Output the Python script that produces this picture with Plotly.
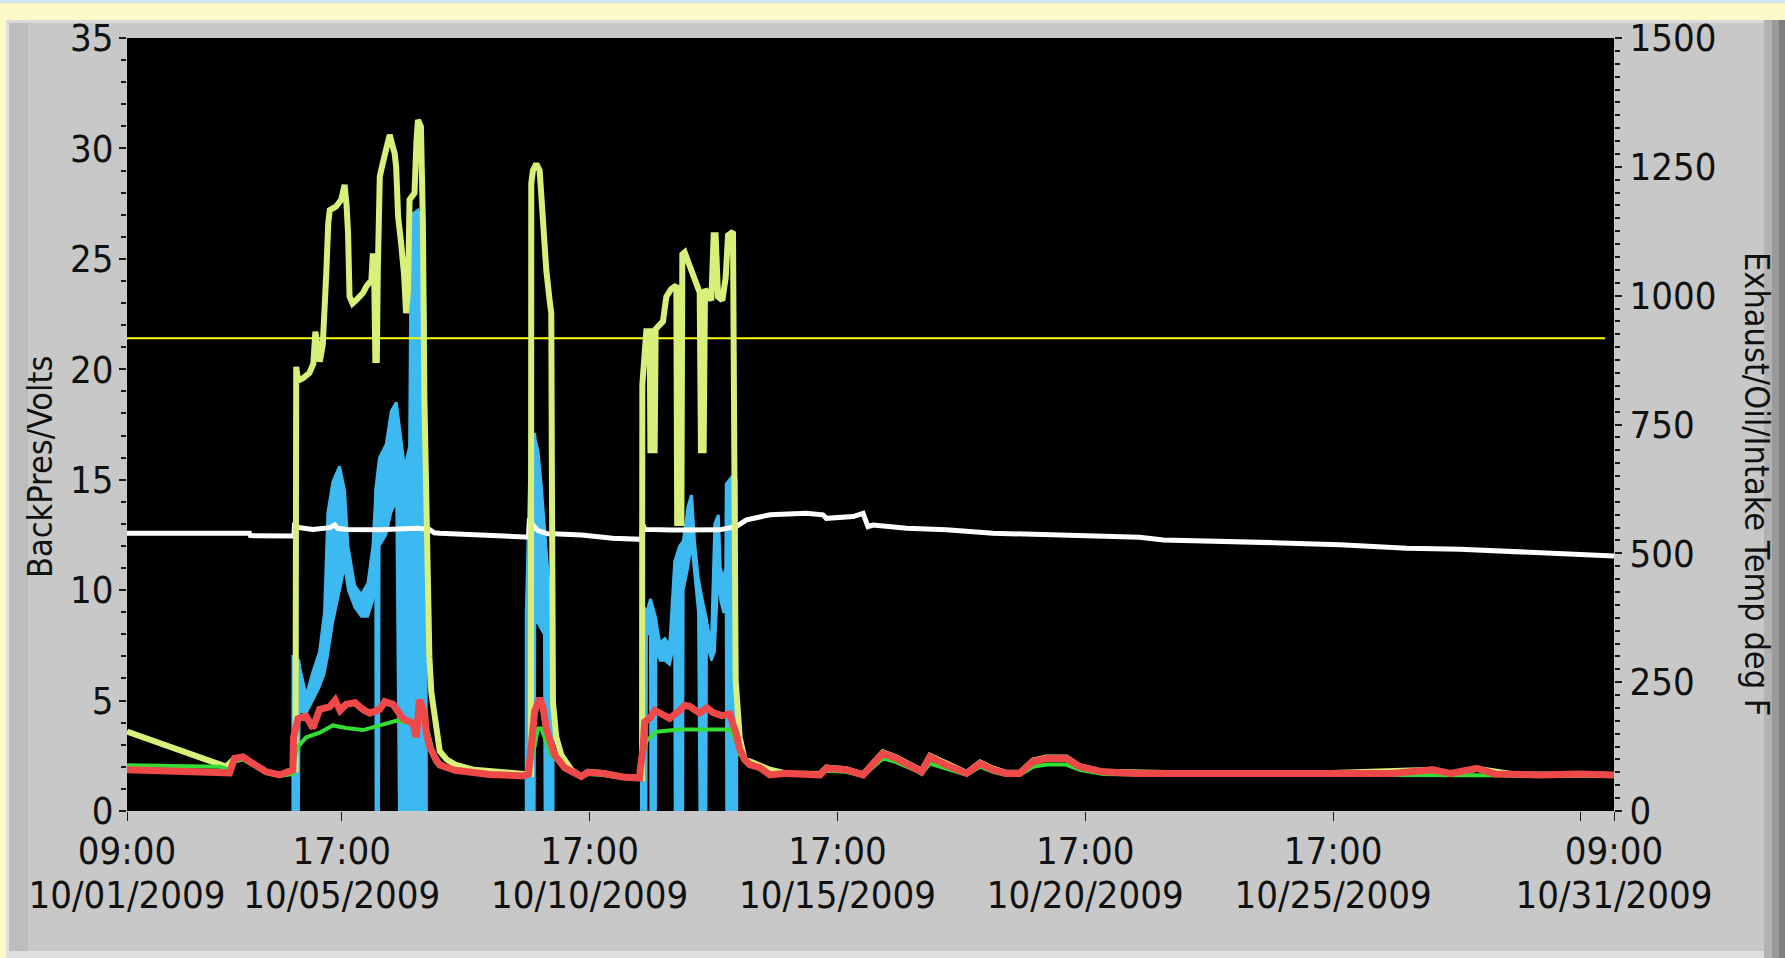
import pandas as pd
import plotly.graph_objects as go

START = pd.Timestamp("2009-10-01 09:00")

# ---------------- data (time in days since 10/01/2009 09:00) ----------------
# Exhaust temperature (deg F, right axis) - light yellow-green
exh_t = [0.0, 2.00, 2.17, 2.34, 2.54, 2.81, 3.08, 3.35, 3.40,
         3.414, 3.45, 3.55, 3.68, 3.76, 3.80, 3.84, 3.89, 3.95, 3.99, 4.02, 4.06, 4.09, 4.16, 4.22,
         4.32, 4.39, 4.43, 4.46, 4.49, 4.55, 4.63, 4.70, 4.76, 4.83, 4.93, 4.96, 4.99, 5.01, 5.04,
         5.06, 5.10, 5.16, 5.23, 5.30, 5.36, 5.40, 5.43, 5.47, 5.53, 5.59, 5.63, 5.67, 5.70, 5.80,
         5.84, 5.87, 5.93, 5.97, 6.00, 6.04, 6.07, 6.10, 6.14, 6.24, 6.31, 6.45, 6.62, 7.00, 7.50,
         8.00, 8.15,
         8.156, 8.19, 8.257, 8.325, 8.358, 8.392, 8.459, 8.526, 8.560, 8.573, 8.594, 8.661, 8.762,
         8.964, 9.165, 9.30, 9.60, 10.00, 10.39,
         10.397, 10.444, 10.477, 10.545, 10.56, 10.645, 10.666, 10.814, 10.881, 10.982, 11.083,
         11.10, 11.184, 11.204, 11.251, 11.352, 11.486, 11.554, 11.58, 11.634, 11.661, 11.789,
         11.836, 11.876, 11.924, 12.011, 12.078, 12.126, 12.226, 12.247, 12.28, 12.361, 12.46,
         12.60, 12.77, 12.97, 13.30, 13.64, 13.98, 14.11, 14.51, 14.85, 15.25, 15.52, 15.93, 16.03,
         16.20, 16.53, 16.94, 17.21, 17.47, 17.74, 18.01, 18.28, 18.55, 18.95, 19.22, 19.69, 20.37,
         22.0, 24.0, 26.35, 26.7, 27.23, 28.0, 30.0]
exh_v = [154, 86, 102, 105, 92, 76, 70, 80, 80,
         862, 835, 840, 850, 868, 930, 905, 872, 905, 960, 1043, 1140, 1166, 1170, 1173,
         1186, 1215, 1175, 1121, 998, 985, 992, 1000, 1005, 1018, 1030, 1082, 1020, 875, 875,
         1050, 1231, 1257, 1290, 1312, 1290, 1276, 1250, 1153, 1102, 1040, 966, 1010, 1186, 1199,
         1300, 1341, 1328, 1140, 800, 560, 400, 300, 230, 150, 116, 100, 90, 80, 75,
         72, 72,
         1218, 1243, 1256, 1243, 1193, 1109, 1050, 991, 966, 630, 210, 143, 109,
         80, 67, 76, 74, 66, 64,
         827, 924, 931, 931, 700, 700, 935, 950, 998, 1013, 1020,
         559, 559, 1080, 1084, 1058, 1028, 1006, 700, 700, 1013, 991,
         1117, 1117, 998, 991, 1035, 1117, 1124, 701, 254, 143, 100,
         95, 88, 80, 73, 72, 72, 84, 81, 71, 114, 104, 84, 78,
         107, 91, 74, 94, 82, 74, 74, 98, 104, 104, 87, 76, 74,
         72, 73, 80, 72, 82, 71, 70]

# Oil temperature (deg F, right axis) - red
oil_t = [0.0, 0.86, 1.19, 2.07, 2.17, 2.34, 2.54, 2.81, 3.08, 3.28, 3.347, 3.36, 3.45, 3.616,
         3.751, 3.885, 4.087, 4.20, 4.30, 4.42, 4.60, 4.76, 4.90, 5.096, 5.20, 5.365, 5.567, 5.77,
         5.836, 5.90, 6.004, 6.038, 6.105, 6.24, 6.31, 6.62, 7.31, 7.99, 8.10, 8.156, 8.224, 8.325,
         8.392, 8.459, 8.526, 8.627, 8.829, 9.165, 9.30, 9.60, 10.00, 10.34, 10.36, 10.41, 10.444,
         10.545, 10.65, 10.814, 10.95, 11.15, 11.25, 11.352, 11.55, 11.70, 11.823, 12.00, 12.16,
         12.29, 12.36, 12.46, 12.56, 12.77, 12.97, 13.30, 13.64, 13.98, 14.11, 14.51, 14.85, 15.25,
         15.52, 15.93, 16.03, 16.20, 16.53, 16.94, 17.21, 17.47, 17.74, 18.01, 18.28, 18.55, 18.95,
         19.22, 19.69, 20.37, 21.65, 22.5, 23.5, 24.5, 25.5, 26.35, 26.7, 27.23, 27.6, 28.5, 29.3,
         30.0]
oil_v = [80, 78, 74, 74, 102, 105, 92, 76, 70, 78, 80, 143, 179, 184,
         161, 197, 202, 215, 195, 207, 210, 197, 190, 197, 212, 207, 179, 170,
         143, 216, 190, 152, 125, 98, 89, 79, 71, 68, 72, 126, 193, 219,
         202, 160, 134, 109, 84, 67, 75, 73, 66, 64, 84, 121, 173,
         180, 195, 188, 180, 195, 205, 203, 190, 200, 191, 185, 188,
         150, 121, 100, 90, 84, 70, 73, 70, 70, 83, 80, 70, 112,
         102, 83, 76, 105, 89, 73, 92, 80, 73, 73, 96, 102, 102,
         86, 76, 73, 73, 72, 74, 72, 73, 80, 73, 83, 72, 70, 72,
         70]

# Intake temperature (deg F, right axis) - green
intake_t = [0.0, 1.87, 2.07, 2.17, 2.34, 2.54, 2.81, 3.08, 3.347, 3.40, 3.45, 3.616, 3.885,
            4.154, 4.42, 4.76, 5.096, 5.43, 5.77, 5.97, 6.038, 6.17, 6.31, 6.62, 7.31, 7.99,
            8.10, 8.19, 8.29, 8.358, 8.459, 8.56, 8.829, 9.165, 9.30, 9.60, 10.00, 10.34, 10.40,
            10.477, 10.68, 11.15, 11.70, 12.16, 12.29, 12.36, 12.50, 12.77, 12.97, 13.30, 13.98,
            14.11, 14.51, 14.85, 15.25, 15.52, 15.93, 16.03, 16.20, 16.53, 16.94, 17.21, 17.47,
            17.74, 18.01, 18.28, 18.55, 18.95, 19.22, 19.69, 20.37, 23.0, 26.0, 30.0]
intake_v = [89, 86, 80, 96, 100, 88, 74, 68, 72, 110, 125, 143, 152,
            166, 161, 157, 166, 175, 170, 179, 165, 116, 93, 78, 72, 70,
            70, 109, 160, 160, 134, 109, 84, 66, 72, 70, 64, 62, 100,
            136, 154, 158, 158, 158, 136, 110, 98, 84, 70, 72, 70,
            78, 76, 68, 102, 95, 78, 72, 92, 82, 70, 86, 76,
            70, 70, 86, 90, 90, 80, 72, 71, 70, 70, 68]

# Battery volts (left axis) - white
volt_t = [0.0, 2.47, 2.49, 3.37, 3.38, 3.40, 3.42, 3.75, 4.09, 4.19, 4.25, 4.42, 5.10, 5.77,
          5.85, 6.10, 6.20, 6.31, 7.00, 7.82, 8.10, 8.12, 8.19, 8.29, 8.49, 8.60, 9.17, 9.80,
          10.38, 10.40, 10.45, 11.00, 11.96, 12.29, 12.50, 12.97, 13.70, 14.04, 14.11, 14.65,
          14.85, 14.95, 15.05, 15.73, 16.53, 17.47, 18.68, 19.76, 20.43, 20.91, 21.91, 23.13,
          24.47, 25.82, 26.89, 27.83, 28.84, 29.85, 30.0]
volt_v = [12.58, 12.58, 12.47, 12.45, 13.05, 13.0, 12.85, 12.75, 12.83, 12.95, 12.8, 12.75, 12.73, 12.75,
          12.8, 12.75, 12.6, 12.58, 12.5, 12.45, 12.40, 13.25, 12.94, 12.7, 12.55, 12.55, 12.5, 12.35,
          12.3, 13.0, 12.75, 12.72, 12.73, 12.88, 13.18, 13.41, 13.48, 13.41, 13.25, 13.33,
          13.48, 12.88, 12.95, 12.80, 12.73, 12.58, 12.50, 12.43, 12.39, 12.27, 12.24, 12.15,
          12.05, 11.90, 11.85, 11.75, 11.67, 11.55, 11.55]

# Back pressure (left axis) - blue; upper / lower envelope of the readings per run
bp1_t = [3.347, 3.348, 3.40, 3.468, 3.482, 3.616, 3.751, 3.885, 3.986, 4.053, 4.154, 4.289, 4.390,
         4.457, 4.592, 4.726, 4.861, 4.962, 5.010, 5.015, 5.083, 5.096, 5.231, 5.332, 5.432, 5.486,
         5.601, 5.702, 5.735, 5.870, 5.971, 6.018, 6.040]
bp1_max = [0.0, 7.0, 7.0, 6.8, 6.5, 5.2, 6.3, 7.2, 9.0, 13.5, 14.9, 15.6, 14.5,
           12.0, 10.2, 9.8, 10.3, 12.0, 14.0, 14.5, 15.8, 16.0, 16.6, 18.1, 18.5, 17.5,
           15.5, 16.5, 27.0, 27.2, 26.3, 22.0, 0.0]
bp1_min = [0.0, 0.0, 0.0, 0.0, 4.5, 4.4, 5.0, 5.6, 6.2, 7.0, 8.5, 10.0, 11.0,
           10.0, 9.2, 8.8, 8.8, 9.5, 10.5, 0.0, 0.0, 12.0, 12.5, 13.5, 14.0, 0.0,
           0.0, 0.0, 0.0, 0.0, 0.0, 0.0, 0.0]

bp2_t = [8.055, 8.056, 8.143, 8.224, 8.237, 8.291, 8.358, 8.412, 8.425, 8.493, 8.560, 8.594, 8.595]
bp2_max = [0.0, 9.0, 17.0, 17.05, 16.8, 16.3, 14.7, 13.0, 12.7, 10.8, 8.8, 7.8, 0.0]
bp2_min = [0.0, 0.0, 0.0, 0.0, 8.5, 8.5, 8.2, 8.0, 0.0, 0.0, 0.0, 0.0, 0.0]

bp3_t = [10.380, 10.381, 10.480, 10.490, 10.550, 10.560, 10.670, 10.680, 10.750, 10.850,
         10.950, 11.040, 11.050, 11.150, 11.220, 11.230, 11.320, 11.390, 11.450, 11.520,
         11.550, 11.620, 11.690, 11.700, 11.790, 11.860, 11.930, 11.970, 12.030, 12.080,
         12.090, 12.230, 12.290, 12.300]
bp3_max = [0.0, 9.3, 9.1, 9.0, 9.5, 9.6, 8.7, 8.5, 7.6, 7.8,
           7.5, 11.0, 11.3, 12.0, 12.2, 12.3, 13.8, 14.3, 12.2, 10.6,
           10.2, 9.4, 8.7, 8.5, 7.5, 13.0, 13.4, 11.0, 10.5, 11.0,
           14.8, 15.2, 15.0, 0.0]
bp3_min = [0.0, 0.0, 0.0, 8.0, 8.0, 0.0, 0.0, 7.2, 6.8, 6.8,
           6.6, 7.5, 0.0, 0.0, 0.0, 10.0, 11.0, 12.0, 10.5, 9.0,
           0.0, 0.0, 0.0, 7.5, 6.8, 7.2, 10.5, 9.5, 9.0, 9.0,
           0.0, 0.0, 0.0, 0.0]

# Back-pressure limit (left axis)
limit_t = [-0.18, 29.82]
limit_v = [21.4, 21.4]

# Axis ticks
tick_days = [0.0, 4.3333, 9.3333, 14.3333, 19.3333, 24.3333, 29.3333, 30.0]
tick_time = ["09:00", "17:00", "17:00", "17:00", "17:00", "17:00", "", "09:00"]
tick_date = ["10/01/2009", "10/05/2009", "10/10/2009", "10/15/2009", "10/20/2009",
             "10/25/2009", "", "10/31/2009"]

# ---------------- styling ----------------
FONT = "DejaVu Sans Condensed, DejaVu Sans, sans-serif"
C_EXH = "#d6f07a"
C_BP = "#3cb9f0"
C_OIL = "#ee4848"
C_INT = "#33dd33"
C_VOLT = "#ffffff"
C_LIM = "#ffff00"
TICKC = "#1a1a1a"

W, H = 1785, 958
L, R, T, B = 127, 1614, 38, 811


def to_dt(days):
    return [START + pd.Timedelta(days=d) for d in days]


def px(x):
    return (x - L) / (R - L)


def py(y):
    return (B - y) / (B - T)


fig = go.Figure()

for bt, bmax, bmin in [(bp1_t, bp1_max, bp1_min), (bp2_t, bp2_max, bp2_min), (bp3_t, bp3_max, bp3_min)]:
    fig.add_trace(go.Scatter(x=to_dt(bt), y=bmin, mode="lines",
                             line=dict(color=C_BP, width=2), showlegend=False, hoverinfo="skip"))
    fig.add_trace(go.Scatter(x=to_dt(bt), y=bmax, mode="lines", fill="tonexty", fillcolor=C_BP,
                             line=dict(color=C_BP, width=3), showlegend=False, name="BackPres"))

fig.add_trace(go.Scatter(x=to_dt(exh_t), y=exh_v, yaxis="y2", mode="lines",
                         line=dict(color=C_EXH, width=6), showlegend=False, name="Exhaust"))
fig.add_trace(go.Scatter(x=to_dt(volt_t), y=volt_v, mode="lines",
                         line=dict(color=C_VOLT, width=5), showlegend=False, name="Volts"))
fig.add_trace(go.Scatter(x=to_dt(intake_t), y=intake_v, yaxis="y2", mode="lines",
                         line=dict(color=C_INT, width=4), showlegend=False, name="Intake"))
fig.add_trace(go.Scatter(x=to_dt(oil_t), y=oil_v, yaxis="y2", mode="lines",
                         line=dict(color=C_OIL, width=7), showlegend=False, name="Oil"))
fig.add_trace(go.Scatter(x=to_dt(limit_t), y=limit_v, mode="lines", cliponaxis=False,
                         line=dict(color=C_LIM, width=2), showlegend=False, name="Limit"))
# invisible trace to activate the second x axis (date line of tick labels)
fig.add_trace(go.Scatter(x=to_dt([0.0, 30.0]), y=[0, 0], xaxis="x2", mode="lines",
                         line=dict(width=0), opacity=0, showlegend=False, hoverinfo="skip"))

xr = [START, START + pd.Timedelta(days=30)]
tickfont = dict(family=FONT, size=38, color="#111111")

shapes = [
    dict(x0=px(0), x1=px(W), y0=py(3), y1=py(0), fillcolor="#cfe6f6"),
    dict(x0=px(6), x1=px(W), y0=py(H), y1=py(20), fillcolor="#c8c8c8"),
    dict(x0=px(6), x1=px(9), y0=py(H), y1=py(20), fillcolor="#e0e0e0"),
    dict(x0=px(9), x1=px(28), y0=py(H), y1=py(22), fillcolor="#bdbdbd"),
    dict(x0=px(6), x1=px(W), y0=py(23), y1=py(20), fillcolor="#dadada"),
    dict(x0=px(1764), x1=px(1772), y0=py(H), y1=py(20), fillcolor="#b2b2b2"),
    dict(x0=px(1772), x1=px(1779), y0=py(H), y1=py(20), fillcolor="#9a9a9a"),
    dict(x0=px(1779), x1=px(W), y0=py(H), y1=py(20), fillcolor="#7e7e7e"),
    dict(x0=px(6), x1=px(1764), y0=py(H), y1=py(951), fillcolor="#dedede"),
    dict(x0=0, x1=1, y0=0, y1=1, fillcolor="#000000"),
]
for s in shapes:
    s.update(type="rect", xref="paper", yref="paper", layer="below", line=dict(width=0))

fig.update_layout(
    width=W, height=H,
    margin=dict(l=L, r=W - R, t=T, b=H - B, pad=0),
    paper_bgcolor="#fcf9c6",
    plot_bgcolor="rgba(0,0,0,0)",
    showlegend=False,
    shapes=shapes,
    xaxis=dict(type="date", range=xr, tickvals=to_dt(tick_days), ticktext=tick_time,
               ticks="outside", ticklen=9, tickwidth=1, tickcolor=TICKC,
               showgrid=False, zeroline=False, showline=False, tickfont=tickfont,
               ticklabelstandoff=-3, automargin=False, fixedrange=True),
    xaxis2=dict(type="date", range=xr, overlaying="x", anchor="y", side="bottom",
                tickvals=to_dt(tick_days), ticktext=tick_date,
                ticks="outside", ticklen=9, tickcolor="rgba(0,0,0,0)",
                showgrid=False, zeroline=False, showline=False, tickfont=tickfont,
                ticklabelstandoff=41, automargin=False, fixedrange=True),
    yaxis=dict(range=[0, 35], tick0=0, dtick=5, ticks="outside", ticklen=7, tickwidth=2,
               tickcolor=TICKC, showgrid=False, zeroline=False, showline=False,
               minor=dict(dtick=1, ticks="outside", ticklen=5, tickwidth=2, tickcolor=TICKC,
                          showgrid=False),
               tickfont=tickfont, ticklabelstandoff=-2, automargin=False, fixedrange=True),
    yaxis2=dict(range=[0, 1500], tick0=0, dtick=250, overlaying="y", side="right", anchor="x",
                ticks="outside", ticklen=7, tickwidth=2, tickcolor=TICKC,
                showgrid=False, zeroline=False, showline=False,
                minor=dict(dtick=25, ticks="outside", ticklen=5, tickwidth=2, tickcolor=TICKC,
                           showgrid=False),
                tickfont=tickfont, ticklabelstandoff=0, automargin=False, fixedrange=True),
    annotations=[
        dict(text="BackPres/Volts", xref="paper", yref="paper", x=px(40), y=py(467),
             textangle=-90, showarrow=False, xanchor="center", yanchor="middle",
             font=dict(family=FONT, size=34, color="#111111")),
        dict(text="Exhaust/Oil/Intake Temp deg F", xref="paper", yref="paper",
             x=px(1757), y=py(484), textangle=90, showarrow=False,
             xanchor="center", yanchor="middle",
             font=dict(family=FONT, size=34, color="#111111")),
    ],
)

fig.write_html("out.html",
               config={"displayModeBar": False, "staticPlot": True},
               post_script="document.body.style.margin='0';document.body.style.overflow='hidden';")
